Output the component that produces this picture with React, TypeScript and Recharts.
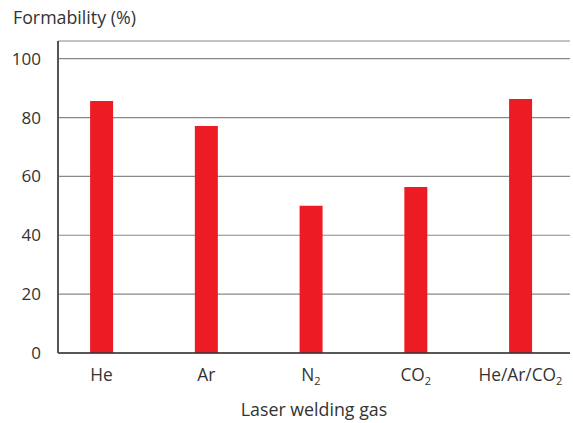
import React from 'react';
import { BarChart, Bar, XAxis, YAxis, CartesianGrid } from 'recharts';

// laser welding gases and the measured formability
const gases = ['He', 'Ar', 'N2', 'CO2', 'He/Ar/CO2'];
const formability = [85.6, 77.1, 50, 56.4, 86.3];
const yTicks = [0, 20, 40, 60, 80, 100];

const data = gases.map((gas, i) => ({ idx: i, gas, value: formability[i] }));

const FONT = '"Open Sans", Lato, sans-serif';
const TEXT = '#333333';

// draws digits in chemical formulas as subscript
const GasTick = (props: any) => {
  const { x, y, payload } = props;
  const label = gases[payload.value] ?? '';
  const parts = label.split(/(\d+)/).filter((p) => p !== '');
  return (
    <text x={x} y={y + 13} textAnchor="middle" fill={TEXT} fontSize={17.3} fontFamily={FONT}>
      {parts.map((p, i) =>
        /^\d+$/.test(p) ? (
          <tspan key={i} fontSize={11} dy={4}>{p}</tspan>
        ) : (
          <tspan key={i} dy={i > 0 && /^\d+$/.test(parts[i - 1]) ? -4 : 0}>{p}</tspan>
        )
      )}
    </text>
  );
};

export default function App() {
  return (
    <div style={{ position: 'absolute', left: 0, top: 0, width: 573, height: 423, background: '#fff' }}>
      <div
        style={{
          position: 'absolute',
          left: 13,
          top: 9,
          fontFamily: FONT,
          fontSize: 17.8,
          lineHeight: '17px',
          color: TEXT,
          whiteSpace: 'nowrap',
        }}
      >
        Formability (%)
      </div>
      <BarChart width={573} height={423} data={data} margin={{ top: 41, right: 3, bottom: 0, left: 0 }}>
        <CartesianGrid vertical={false} stroke="#888888" strokeWidth={1.2} />
        <XAxis
          dataKey="idx"
          type="number"
          domain={[-0.415, 4.473]}
          allowDataOverflow
          ticks={[0, 1, 2, 3, 4]}
          tick={<GasTick />}
          tickLine={false}
          tickSize={0}
          tickMargin={15}
          height={70}
          axisLine={{ stroke: '#333333', strokeWidth: 1.5 }}
          label={{
            value: 'Laser welding gas',
            position: 'insideBottom',
            offset: 7,
            fill: TEXT,
            fontSize: 17.8,
            fontFamily: FONT,
          }}
        />
        <YAxis
          width={58}
          domain={[0, 106]}
          ticks={yTicks}
          allowDataOverflow
          tickLine={false}
          tickSize={0}
          tickMargin={17}
          axisLine={{ stroke: '#555555', strokeWidth: 2 }}
          tick={{ fill: TEXT, fontSize: 17, fontFamily: FONT }}
        />
        <Bar dataKey="value" fill="#ed1c24" barSize={23} isAnimationActive={false} />
      </BarChart>
    </div>
  );
}
